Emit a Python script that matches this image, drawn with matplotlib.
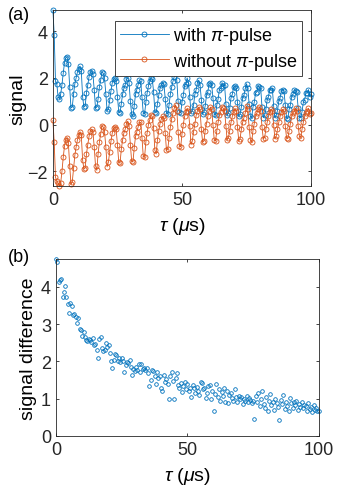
import numpy as np
import matplotlib
matplotlib.use("Agg")
import matplotlib.pyplot as plt

plt.rcParams['font.family'] = ['Liberation Sans', 'DejaVu Sans']
plt.rcParams['mathtext.fontset'] = 'custom'
plt.rcParams['mathtext.rm'] = 'Liberation Sans'
plt.rcParams['mathtext.it'] = 'Liberation Sans:italic'
plt.rcParams['font.size'] = 13

# delay tau in microseconds, sampled every 0.5 us
tau = np.arange(0, 100.5, 0.5)

# signal with pi-pulse
with_pi = [
    4.9, 3.85, 1.85, 1.75, 1.2, 1.1, 1.3, 1.7, 2.2, 2.65,
    2.85, 2.9, 2.6, 1.6, 0.72, 0.75, 1.3, 1.75, 2.0, 2.25,
    2.4, 2.5, 2.3, 1.2, 0.75, 0.8, 1.35, 1.7, 2.05, 2.25,
    2.3, 2.15, 1.5, 0.7, 0.75, 1.1, 1.6, 1.9, 2.25, 2.2,
    2.0, 1.3, 0.6, 0.65, 1.05, 1.45, 1.8, 1.95, 2.0, 1.85,
    1.2, 0.55, 0.5, 0.9, 1.3, 1.55, 1.7, 1.95, 2.0, 1.8,
    1.0, 0.45, 0.35, 0.8, 1.3, 1.5, 1.7, 1.9, 1.85, 1.2,
    0.5, 0.45, 0.95, 1.35, 1.65, 1.85, 2.0, 1.95, 1.4, 0.55,
    0.5, 0.9, 1.25, 1.55, 1.7, 1.8, 1.75, 1.1, 0.5, 0.45,
    0.85, 1.3, 1.6, 1.85, 2.05, 2.2, 1.9, 1.0, 0.55, 0.5,
    0.95, 1.25, 1.65, 1.75, 2.0, 1.8, 1.2, 0.5, 0.6, 0.85,
    1.3, 1.5, 1.8, 1.9, 1.7, 1.05, 0.45, 0.55, 0.8, 1.25,
    1.4, 1.75, 1.8, 1.7, 1.15, 0.45, 0.4, 0.85, 1.1, 1.5,
    1.55, 1.8, 1.65, 1.7, 0.9, 0.4, 0.5, 0.7, 1.15, 1.3,
    1.6, 1.65, 1.55, 0.95, 0.35, 0.45, 0.75, 1.15, 1.25, 1.55,
    1.75, 1.55, 0.9, 0.35, 0.3, 0.75, 0.95, 1.35, 1.4, 1.65,
    1.6, 1.55, 0.75, 0.3, 0.4, 0.65, 1.05, 1.2, 1.5, 1.5,
    1.55, 0.8, 0.3, 0.4, 0.6, 1.0, 1.15, 1.45, 1.5, 1.45,
    0.85, 0.3, 0.25, 0.65, 0.85, 1.2, 1.3, 1.5, 1.45, 1.4,
    0.7, 0.3, 0.3, 0.55, 0.95, 1.05, 1.35, 1.35, 1.5, 1.2,
    1.3]

# signal without pi-pulse
without_pi = [
    0.18, -0.75, -2.25, -2.4, -2.5, -2.62, -2.5, -2.0, -1.4, -0.9,
    -0.65, -0.55, -0.8, -1.75, -2.55, -2.45, -1.85, -1.3, -0.95, -0.65,
    -0.45, -0.3, -0.45, -1.5, -1.9, -1.85, -1.25, -0.85, -0.5, -0.25,
    -0.2, -0.3, -0.95, -1.75, -1.95, -1.25, -0.75, -0.4, -0.05, -0.1,
    -0.3, -0.95, -1.8, -1.6, -1.15, -0.7, -0.35, -0.15, -0.1, -0.2,
    -0.85, -1.6, -1.65, -1.05, -0.65, -0.35, -0.2, 0.05, 0.15, -0.05,
    -0.85, -1.55, -1.6, -1.0, -0.5, -0.3, -0.1, 0.1, 0.1, -0.55,
    -1.35, -1.4, -0.75, -0.35, 0.0, 0.2, 0.4, 0.35, -0.15, -1.1,
    -1.25, -0.65, -0.25, 0.05, 0.25, 0.35, 0.3, -0.35, -1.1, -1.05,
    -0.55, -0.1, 0.25, 0.5, 0.7, 0.85, 0.6, -0.3, -0.9, -0.95,
    -0.4, 0.0, 0.35, 0.55, 0.7, 0.6, -0.05, -0.85, -0.7, -0.3,
    0.05, 0.4, 0.6, 0.75, 0.65, -0.2, -0.75, -0.7, -0.25, 0.05,
    0.35, 0.6, 0.75, 0.65, 0.0, -0.65, -0.7, -0.25, 0.1, 0.4,
    0.55, 0.75, 0.7, 0.6, -0.05, -0.65, -0.55, -0.25, 0.1, 0.35,
    0.55, 0.7, 0.6, -0.1, -0.7, -0.6, -0.2, 0.1, 0.3, 0.5,
    0.8, 0.65, -0.1, -0.65, -0.75, -0.25, 0.05, 0.35, 0.5, 0.65,
    0.75, 0.6, -0.1, -0.6, -0.55, -0.2, 0.1, 0.35, 0.55, 0.65,
    0.6, 0.0, -0.6, -0.5, -0.2, 0.1, 0.35, 0.55, 0.65, 0.6,
    -0.05, -0.55, -0.6, -0.25, 0.05, 0.35, 0.5, 0.6, 0.7, 0.6,
    -0.05, -0.5, -0.55, -0.2, 0.1, 0.35, 0.5, 0.6, 0.7, 0.45,
    0.5]

# signal difference (panel b)
sig_diff = [
    4.75, 4.66, 4.12, 4.19, 4.20, 3.73, 3.86, 4.03, 3.72, 3.54,
    3.30, 3.56, 3.48, 3.26, 3.28, 3.19, 3.03, 3.16, 2.87, 2.85,
    2.69, 2.80, 2.65, 2.58, 2.55, 2.60, 2.57, 2.52, 2.62, 2.45,
    2.47, 2.30, 2.10, 2.60, 2.65, 2.35, 2.28, 2.30, 2.50, 2.40,
    2.45, 2.22, 2.00, 1.82, 2.05, 2.20, 2.18, 2.00, 2.08, 1.98,
    2.10, 2.02, 1.72, 1.90, 1.98, 1.95, 2.05, 1.85, 1.64, 1.80,
    1.75, 1.85, 1.78, 1.94, 1.72, 1.92, 1.80, 1.83, 1.76, 1.82,
    1.70, 1.35, 1.50, 1.78, 1.75, 1.60, 1.40, 1.72, 1.55, 1.62,
    1.29, 1.22, 1.64, 1.45, 1.52, 1.40, 1.00, 1.60, 1.72, 1.48,
    1.00, 1.55, 1.70, 1.38, 1.30, 1.42, 1.18, 1.35, 1.45, 1.25,
    1.40, 1.22, 1.30, 1.05, 1.36, 1.28, 1.15, 1.32, 1.20, 1.10,
    1.45, 1.42, 1.25, 1.30, 1.02, 1.15, 1.35, 1.38, 0.98, 1.22,
    0.67, 1.12, 1.40, 1.05, 1.25, 0.95, 1.18, 1.08, 1.30, 0.92,
    1.20, 0.88, 1.10, 1.15, 1.02, 0.95, 1.25, 1.05, 0.90, 1.08,
    0.98, 1.04, 0.86, 1.00, 0.94, 1.06, 0.90, 1.02, 0.97, 0.88,
    0.95, 0.45, 1.08, 0.92, 1.15, 0.80, 0.98, 1.20, 0.86, 0.75,
    1.05, 0.68, 0.95, 1.12, 0.82, 0.90, 0.70, 1.00, 0.88, 0.78,
    0.43, 0.96, 0.85, 1.10, 0.72, 0.92, 0.80, 0.68, 1.02, 0.88,
    0.75, 0.90, 0.82, 0.95, 0.70, 0.86, 0.78, 0.92, 0.74, 0.84,
    0.80, 0.68, 0.88, 0.72, 0.78, 0.65, 0.82, 0.70, 0.76, 0.68,
    0.66]

blue = '#0072BD'
orange = '#D95319'
axcol = '#262626'

fig = plt.figure(figsize=(3.37, 5.02), dpi=100)

def style(ax):
    for s in ax.spines.values():
        s.set_color(axcol)
        s.set_linewidth(0.6)
    ax.tick_params(direction='in', length=2.5, width=0.6, colors=axcol,
                   top=True, right=True, labelsize=13, labelcolor='#262626')

# (a)
ax1 = fig.add_axes([0.157, 0.6275, 0.766, 0.3506])
ax1.plot(tau, with_pi, '-o', color=blue, lw=0.6, ms=3.6, mfc='none', mew=0.6,
         label=r'with $\pi$-pulse', clip_on=False)
ax1.plot(tau, without_pi, '-o', color=orange, lw=0.6, ms=3.6, mfc='none', mew=0.6,
         label=r'without $\pi$-pulse', clip_on=False)
ax1.set_xlim(0, 100)
ax1.set_ylim(min(without_pi), max(with_pi))
ax1.set_xticks([0, 50, 100])
ax1.set_yticks([-2, 0, 2, 4])
ax1.set_ylabel('signal', fontsize=14, labelpad=1)
ax1.set_xlabel(r'$\tau$ ($\mu$s)', fontsize=14, labelpad=5)
style(ax1)
leg = ax1.legend(loc='upper right', bbox_to_anchor=(0.965, 0.94), borderaxespad=0,
                 fancybox=False, framealpha=1, edgecolor=axcol, handlelength=2.7,
                 fontsize=13, borderpad=0.25, labelspacing=0.25, handletextpad=0.25)
leg.get_frame().set_linewidth(0.6)

# (b)
ax2 = fig.add_axes([0.166, 0.1295, 0.780, 0.3526])
ax2.plot(tau, sig_diff, 'o', color=blue, ms=2.6, mfc='none', mew=0.6, clip_on=False)
ax2.set_xlim(0, 100)
ax2.set_ylim(0, max(sig_diff))
ax2.set_xticks([0, 50, 100])
ax2.set_yticks([0, 1, 2, 3, 4])
ax2.set_ylabel('signal difference', fontsize=14, labelpad=3)
ax2.set_xlabel(r'$\tau$ ($\mu$s)', fontsize=14, labelpad=5)
style(ax2)

fig.text(0.022, 0.970, '(a)', fontsize=13, va='center', ha='left')
fig.text(0.022, 0.487, '(b)', fontsize=13, va='center', ha='left')

fig.savefig('out.png', dpi=100)
